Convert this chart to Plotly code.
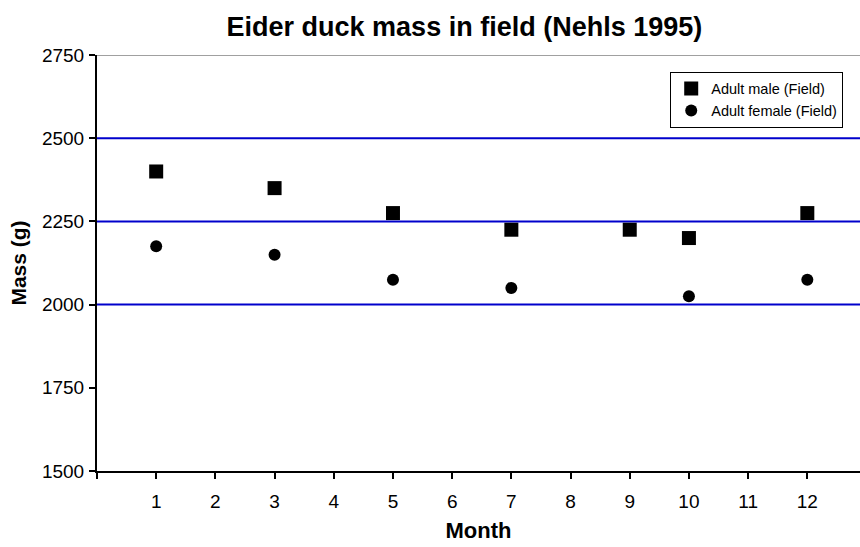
import plotly.graph_objects as go

# Monthly eider duck body mass observed in the field (Nehls 1995)
male_months = [1, 3, 5, 7, 9, 10, 12]
male_mass = [2400, 2350, 2275, 2225, 2225, 2200, 2275]

female_months = [1, 3, 5, 7, 10, 12]
female_mass = [2175, 2150, 2075, 2050, 2025, 2075]

x_tick_vals = list(range(0, 13))
x_tick_text = [""] + [str(m) for m in range(1, 13)]
y_tick_vals = [1500, 1750, 2000, 2250, 2500, 2750]
grid_values = [2000, 2250, 2500]
top_border = 2750

FONT = "Liberation Sans, Arial, sans-serif"

fig = go.Figure()
fig.add_trace(go.Scatter(
    x=male_months, y=male_mass, mode="markers", name="Adult male (Field)",
    marker=dict(symbol="square", size=14, color="black"),
))
fig.add_trace(go.Scatter(
    x=female_months, y=female_mass, mode="markers", name="Adult female (Field)",
    marker=dict(symbol="circle", size=12, color="black"),
))

shapes = [
    dict(type="line", xref="paper", yref="y", x0=0, x1=1, y0=v, y1=v,
         line=dict(color="#0000cc", width=2), layer="below")
    for v in grid_values
]
shapes.append(dict(type="line", xref="paper", yref="y", x0=0, x1=1,
                   y0=top_border, y1=top_border,
                   line=dict(color="#a0a0a0", width=2), layer="below"))

fig.update_layout(
    width=860, height=547,
    margin=dict(l=97, r=0, t=55, b=76),
    paper_bgcolor="white", plot_bgcolor="white",
    font=dict(family=FONT, color="black", size=19),
    title=dict(text="<b>Eider duck mass in field (Nehls 1995)</b>",
               x=0.54, xanchor="center", y=0.951, yanchor="middle",
               font=dict(size=27, family=FONT)),
    shapes=shapes,
    showlegend=True,
    legend=dict(x=0.978, y=0.96, xanchor="right", yanchor="top",
                bordercolor="black", borderwidth=1, bgcolor="white",
                font=dict(size=14.5, family=FONT),
                itemwidth=30, tracegroupgap=0),
    xaxis=dict(range=[0, 12.89], tickvals=x_tick_vals, ticktext=x_tick_text,
               showgrid=False, zeroline=False, showline=True,
               linecolor="black", linewidth=2, ticks="outside", ticklen=6,
               tickwidth=1.5, tickcolor="black", tickfont=dict(size=19),
               ticklabelstandoff=6,
               title=dict(text="<b>Month</b>", font=dict(size=22), standoff=12)),
    yaxis=dict(range=[1500, 2750], tickvals=y_tick_vals,
               showgrid=False, zeroline=False, showline=True,
               linecolor="black", linewidth=2, ticks="outside", ticklen=6,
               tickwidth=1.5, tickcolor="black", tickfont=dict(size=19),
               ticklabelstandoff=1,
               title=dict(text="<b>Mass (g)</b>", font=dict(size=21), standoff=10)),
)

fig.write_html("out.html")
